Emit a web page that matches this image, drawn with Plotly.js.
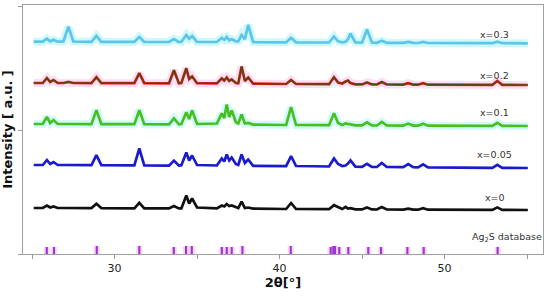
<!DOCTYPE html>
<html>
<head>
<meta charset="utf-8">
<script src="https://cdn.plot.ly/plotly-3.0.1.min.js"></script>
<style>html,body{margin:0;padding:0;background:#fff;}#chart{width:550px;height:296px;}</style>
</head>
<body>
<div id="chart"></div>
<script>
// 2θ positions (degrees) of the sampled profile points
var twoTheta = [25.1,25.65,25.9,26.1,26.3,26.55,26.9,27.2,27.5,28.6,28.9,29.2,31.2,31.5,31.8,33.3,33.6,33.9,
  34.05,34.35,34.52,34.7,35.0,36.2,36.5,36.65,36.8,36.95,37.1,37.35,37.5,37.7,37.9,38.1,38.4,40.4,40.7,41.0,
  43.0,43.3,43.55,43.8,44.0,44.15,44.3,44.6,45.0,45.3,45.6,45.9,46.2,46.5,47.5,47.8,48.1,48.4,48.7,49.0,
  52.9,53.2,53.5,55.05];

// intensities (a.u.)
var int_x0 = [2,2,4.5,2.5,3.5,2,2,2,2,1.9,6.3,1.9,1.7,7.2,1.7,1.6,4,1.6,1.6,14.5,6.5,11.5,2.5,1.6,4.5,3.5,6,4,4.5,2.5,2,8.5,2,2.5,1.4,1,7,1,
  0.8,4.8,2.5,1,3.2,1.5,1.8,0.7,0.6,2.6,0.6,0.5,3,0.5,0.4,1.4,0.4,0.3,1.8,0.3,0.1,2.6,0.1,0];
var int_x005 = [3,3,8,4,6,3,3,3,3,2.8,12.8,2.8,2.6,19.5,2.6,2.4,7.4,2.4,2.8,15.5,7.5,12.5,3,2.5,9.5,6.5,13.5,7.5,10.5,4,3,13.5,5,8.5,2.2,1.8,11.8,2,
  1.5,9.5,4,2,2.5,4.5,7.5,1.3,1.1,4.1,1.1,1,5,1,0.8,3.8,0.8,0.7,3.7,0.7,0.2,3.2,0.2,0];
var int_x01 = [2,2,9,3,6,2,2,2,2,1.9,15.9,1.9,1.8,15.8,1.8,1.7,7.7,1.7,2,13.7,7,15.6,2,2.5,12.6,8,21.5,9,15.5,4,2.5,11.5,2.5,3,1.4,1,19,1,
  0.8,12.8,3,1,2.5,2,1.5,0.7,0.6,3.6,0.6,0.5,4,0.5,0.4,2.4,0.4,0.3,2.3,0.3,0.1,3.1,0.1,0];
var int_x02 = [2,2,7,3,5,2,2,3,2,1.9,7.9,1.9,1.8,11.8,1.8,1.7,14.7,1.7,2,16.7,6,8.6,1.8,1.6,6.6,4.5,7.6,4,5.6,2,1.8,18.5,4,7.5,1.4,1,5,1,
  0.8,7.8,2.5,1.5,3.5,4.5,2,0.7,0.6,2.6,0.6,0.5,3,0.5,0.4,1.9,0.4,0.3,1.8,0.3,0.1,4.1,0.1,0];
var int_x03 = [1.6,1.6,4.6,2,3.6,1.6,1.8,16.5,1.8,1.5,7.5,1.5,1.4,6.4,1.4,1.3,4.3,1.3,1.5,8.3,4.5,7.3,1.5,1.3,5.3,3.5,6.3,3,4.3,2,2,8.3,4,18.3,1.2,1,5.5,1,
  0.8,6.8,2,1,1.5,4,9.8,1,0.8,13.8,0.8,0.5,2.5,0.5,0.4,1.4,0.4,0.3,1.3,0.3,0.1,1.6,0.1,0];

// stacking offsets of each pattern (a.u.)
var seriesNames = ["x=0","x=0.05","x=0.1","x=0.2","x=0.3"];
var offsets = [44, 86, 128, 169, 210.7];

// Ag2S database reference lines
var dbTheta = [25.89,26.33,28.92,31.50,33.59,34.33,34.68,36.50,36.80,37.10,37.75,40.68,43.10,43.26,43.36,43.62,44.17,45.38,46.15,47.75,48.74,53.22];
var dbInt = [7,7,8,8,7,8,8,7,7,7,8,8,7,8,8,7,7,7,7,7,7,7];

var majorTicks = [30,40,50];
var minorTicks = [25,35,45,55];

function shifted(arr, off){ return arr.map(function(v){return v+off;}); }

var series = [int_x0, int_x005, int_x01, int_x02, int_x03];
var colors = ["#111111","#1a1acf","#45c01e","#e01c14","#5cc5ea"];
var glows = [null, null, "rgba(160,242,246,0.45)", "rgba(250,190,235,0.5)", "rgba(160,242,246,0.5)"];

var traces = [];
// database sticks (halo + stick)
traces.push({type:'bar', x: dbTheta, y: dbInt, width: 0.38, marker:{color:'rgba(250,200,240,0.7)', line:{width:0}}, hoverinfo:'skip', showlegend:false});
traces.push({type:'bar', x: dbTheta, y: dbInt, width: 0.13, marker:{color:'#9b35d6', line:{width:0}}, showlegend:false});

for (var i=0;i<series.length;i++){
  var yv = shifted(series[i], offsets[i]);
  if (glows[i]) {
    traces.push({type:'scatter', mode:'lines', x: twoTheta, y: yv, line:{color:glows[i], width:8}, hoverinfo:'skip', showlegend:false});
  }
  traces.push({type:'scatter', mode:'lines', name: seriesNames[i], x: twoTheta, y: yv, line:{color:colors[i], width:2.7}, showlegend:false});
  if (i===3) {
    traces.push({type:'scatter', mode:'lines', x: twoTheta, y: yv, line:{color:'#3a4f14', width:1.2}, hoverinfo:'skip', showlegend:false});
  }
}

var labelX = 53.06;
var annYs = [57, 100, 142, 179, 220];
var annotations = seriesNames.map(function(n, i){
  return {x: labelX, y: annYs[i], xref:'x', yref:'y', text: n, showarrow:false, xanchor:'center', yanchor:'middle',
          font:{family:'DejaVu Sans, Verdana, sans-serif', size:9.5, color:'#333'}};
});
annotations.push({x: 53.8, y: 17, xref:'x', yref:'y', text: 'Ag<sub>2</sub>S database', showarrow:false, xanchor:'center', yanchor:'middle',
  font:{family:'DejaVu Sans, Verdana, sans-serif', size:9.5, color:'#333'}});

var layout = {
  width: 550, height: 296,
  margin: {l: 23, r: 7, t: 5, b: 42, pad: 0},
  paper_bgcolor: '#fff', plot_bgcolor: '#fff',
  barmode: 'overlay',
  showlegend: false,
  xaxis: {
    range: [24.45, 55.97], tickmode:'array', tickvals: majorTicks,
    ticks: 'outside', ticklen: 4, tickcolor: '#999', showgrid: false, zeroline: false,
    minor: {tickmode:'array', tickvals: minorTicks, ticks:'outside', ticklen:4, tickcolor:'#999', showgrid:false},
    showline: true, linecolor: '#a0a0a0', linewidth: 1, mirror: true,
    tickfont: {family:'DejaVu Sans, Verdana, sans-serif', size: 11, color:'#222'},
    title: {text: '2θ[°]', font: {family:'DejaVu Sans, Verdana, sans-serif', size: 13, color:'#111', weight: 'bold'}, standoff: 2}
  },
  yaxis: {
    range: [0, 249], tickmode:'array', tickvals:[0,124,248], showticklabels: false,
    ticks: 'outside', ticklen: 4, tickcolor:'#999', showgrid: false, zeroline: false,
    showline: true, linecolor: '#a0a0a0', linewidth: 1, mirror: true,
    title: {text: 'Intensity [ a.u. ]', font: {family:'DejaVu Sans, Verdana, sans-serif', size: 13, color:'#111', weight: 'bold'}, standoff: 6}
  },
  annotations: annotations
};

Plotly.newPlot('chart', traces, layout, {displayModeBar:false, staticPlot:true});
</script>
</body>
</html>
